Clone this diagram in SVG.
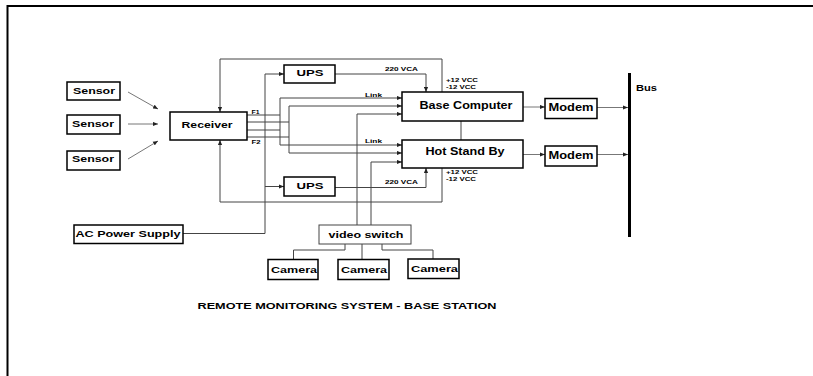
<svg xmlns="http://www.w3.org/2000/svg" width="813" height="376" viewBox="0 0 813 376">
<style>
.box{fill:#fff;stroke:#000;stroke-width:1.5}
.ln{fill:none;stroke:#444;stroke-width:1}
.lt{fill:none;stroke:#777;stroke-width:1}
text{font-family:"Liberation Sans",Arial,sans-serif;font-weight:bold;fill:#000}
.t9{font-size:9.5px;text-anchor:middle}
.t10{font-size:10.5px;text-anchor:middle}
.s{font-size:6px}
</style>
<defs>
<marker id="ah" viewBox="0 0 6 6" refX="6" refY="3" markerWidth="5" markerHeight="5" orient="auto" markerUnits="userSpaceOnUse">
<path d="M0,0.5 L6,3 L0,5.5 z" fill="#222"/>
</marker>
</defs>
<rect width="813" height="376" fill="#fff"/>
<path d="M7.5,376 V6 H813" fill="none" stroke="#000" stroke-width="2"/>

<g id="connectors">
<path class="lt" d="M128,92 L158,109" marker-end="url(#ah)"/>
<path class="lt" d="M128,124 L158,124" marker-end="url(#ah)"/>
<path class="lt" d="M128,159 L158,141" marker-end="url(#ah)"/>
<path class="ln" d="M442,92 V59 H220 V112" marker-end="url(#ah)"/>
<path class="ln" d="M442,168 V202 H220 V140" marker-end="url(#ah)"/>
<path class="ln" d="M335,74 H426 V92" marker-end="url(#ah)"/>
<path class="ln" d="M335,187.5 H426 V168" marker-end="url(#ah)"/>
<path class="ln" d="M183,233.5 H265 V74 H284" marker-end="url(#ah)"/>
<path class="ln" d="M265,186.5 H284" marker-end="url(#ah)"/>
<path class="ln" d="M247,115 H280 M247,122 H289 M247,130 H280 M247,137 H289 M280,98 V145 M289,106 V153"/>
<path class="ln" d="M280,98 H402" marker-end="url(#ah)"/>
<path class="ln" d="M289,106 H402" marker-end="url(#ah)"/>
<path class="ln" d="M280,145 H402" marker-end="url(#ah)"/>
<path class="ln" d="M289,153 H402" marker-end="url(#ah)"/>
<path class="ln" d="M357,225 V114 H402" marker-end="url(#ah)"/>
<path class="ln" d="M371,225 V162 H402" marker-end="url(#ah)"/>
<path class="ln" d="M345,244 V250 H293.5 V259 M362,244 V259 M382,244 V250 H433 V259"/>
<path class="ln" d="M461,121 V140"/>
<path class="lt" d="M523,107 H545" marker-end="url(#ah)"/>
<path class="lt" d="M523,154.5 H545" marker-end="url(#ah)"/>
<path class="lt" d="M597,107.5 H628" marker-end="url(#ah)"/>
<path class="lt" d="M597,154.5 H628" marker-end="url(#ah)"/>
</g>

<g id="bus">
<path d="M629.5,73 V237" stroke="#000" stroke-width="3"/>
<text x="636" y="91" font-size="8.5" textLength="21" lengthAdjust="spacingAndGlyphs">Bus</text>
</g>

<g id="sensor1"><rect class="box" x="67" y="82" width="53" height="18"/><text class="t9" x="94" y="93.8" textLength="42" lengthAdjust="spacingAndGlyphs">Sensor</text></g>
<g id="sensor2"><rect class="box" x="67" y="115" width="53" height="19"/><text class="t9" x="93" y="126.8" textLength="42" lengthAdjust="spacingAndGlyphs">Sensor</text></g>
<g id="sensor3"><rect class="box" x="67" y="151" width="53" height="19"/><text class="t9" x="93" y="162.3" textLength="42" lengthAdjust="spacingAndGlyphs">Sensor</text></g>
<g id="receiver"><rect class="box" x="170" y="112" width="77" height="28"/><text class="t9" x="207" y="128.3" textLength="51" lengthAdjust="spacingAndGlyphs">Receiver</text>
<text class="s" x="251.5" y="113.6" textLength="8" lengthAdjust="spacingAndGlyphs">F1</text>
<text class="s" x="251.5" y="143.6" textLength="9" lengthAdjust="spacingAndGlyphs">F2</text></g>
<g id="ups1"><rect class="box" x="284" y="65" width="51" height="18"/><text class="t9" x="310" y="75.8" textLength="27" lengthAdjust="spacingAndGlyphs">UPS</text>
<text class="s" x="385" y="71.1" textLength="33" lengthAdjust="spacingAndGlyphs">220 VCA</text></g>
<g id="ups2"><rect class="box" x="284" y="177" width="51" height="19"/><text class="t9" x="310" y="188.8" textLength="27" lengthAdjust="spacingAndGlyphs">UPS</text>
<text class="s" x="385" y="183.6" textLength="33" lengthAdjust="spacingAndGlyphs">220 VCA</text></g>
<g id="base-computer"><rect class="box" x="402" y="92" width="121" height="29"/><text class="t10" x="466" y="108.7" textLength="93" lengthAdjust="spacingAndGlyphs">Base Computer</text>
<text class="s" x="446" y="82.1" textLength="32" lengthAdjust="spacingAndGlyphs">+12 VCC</text>
<text class="s" x="446" y="89.1" textLength="30" lengthAdjust="spacingAndGlyphs">-12 VCC</text>
<text class="s" x="365" y="96.6" textLength="17" lengthAdjust="spacingAndGlyphs">Link</text></g>
<g id="hot-stand-by"><rect class="box" x="402" y="140" width="121" height="28"/><text class="t10" x="465" y="154.7" textLength="79" lengthAdjust="spacingAndGlyphs">Hot Stand By</text>
<text class="s" x="446" y="174.1" textLength="32" lengthAdjust="spacingAndGlyphs">+12 VCC</text>
<text class="s" x="446" y="181.1" textLength="30" lengthAdjust="spacingAndGlyphs">-12 VCC</text>
<text class="s" x="365" y="143.1" textLength="17" lengthAdjust="spacingAndGlyphs">Link</text></g>
<g id="modem1"><rect class="box" x="545" y="98.5" width="52" height="20"/><text class="t10" x="571" y="111.2" textLength="45" lengthAdjust="spacingAndGlyphs">Modem</text></g>
<g id="modem2"><rect class="box" x="545" y="146" width="52" height="20"/><text class="t10" x="571" y="158.7" textLength="45" lengthAdjust="spacingAndGlyphs">Modem</text></g>
<g id="ac-power-supply"><rect class="box" x="74" y="225" width="109" height="18.5"/><text class="t9" x="128" y="236.8" textLength="105" lengthAdjust="spacingAndGlyphs">AC Power Supply</text></g>
<g id="video-switch"><rect fill="#fff" stroke="#444" stroke-width="1" x="319" y="225" width="92" height="19"/><text class="t9" x="366" y="238.3" textLength="75" lengthAdjust="spacingAndGlyphs">video switch</text></g>
<g id="camera1"><rect class="box" x="268" y="259.5" width="50" height="20"/><text class="t9" x="294" y="273.3" textLength="46" lengthAdjust="spacingAndGlyphs">Camera</text></g>
<g id="camera2"><rect class="box" x="338" y="259.5" width="51" height="20"/><text class="t9" x="364" y="273.3" textLength="46" lengthAdjust="spacingAndGlyphs">Camera</text></g>
<g id="camera3"><rect class="box" x="408" y="259" width="51" height="19.5"/><text class="t9" x="434.5" y="272.3" textLength="47" lengthAdjust="spacingAndGlyphs">Camera</text></g>
<g id="title"><text x="347" y="308.5" font-size="8.5" text-anchor="middle" textLength="299" lengthAdjust="spacingAndGlyphs">REMOTE MONITORING SYSTEM - BASE STATION</text></g>
</svg>
